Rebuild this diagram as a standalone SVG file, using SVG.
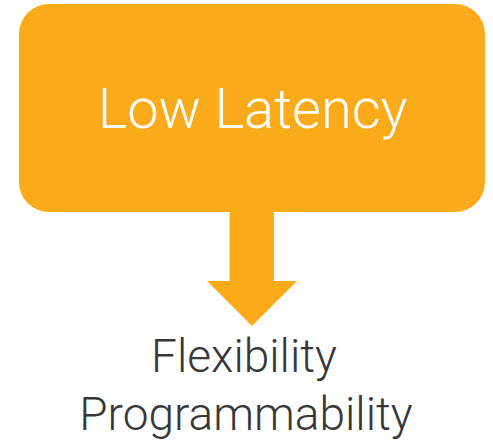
<svg xmlns="http://www.w3.org/2000/svg" width="493" height="443" viewBox="0 0 493 443">
<style>
.box{fill:#FBAB1A;}
.t{font-family:Roboto,"Liberation Sans",sans-serif;font-weight:300;}
.w{fill:#FFFFFF;font-size:56px;}
.g{fill:#383838;font-size:46px;}
</style>
<rect width="493" height="443" fill="#FFFFFF"/>
<g id="node-low-latency">
<rect class="box" x="19" y="4" width="466" height="208" rx="30" ry="30"/>
<text class="t w" x="252.5" y="128" text-anchor="middle">Low Latency</text>
</g>
<g id="connectors">
<polygon class="box" points="229.5,211 274,211 274,281 297,281 252,326 207,281 229.5,281"/>
</g>
<g id="node-result">
<text class="t g" x="244" y="372" text-anchor="middle">Flexibility</text>
<text class="t g" x="246" y="430" text-anchor="middle">Programmability</text>
</g>
</svg>
